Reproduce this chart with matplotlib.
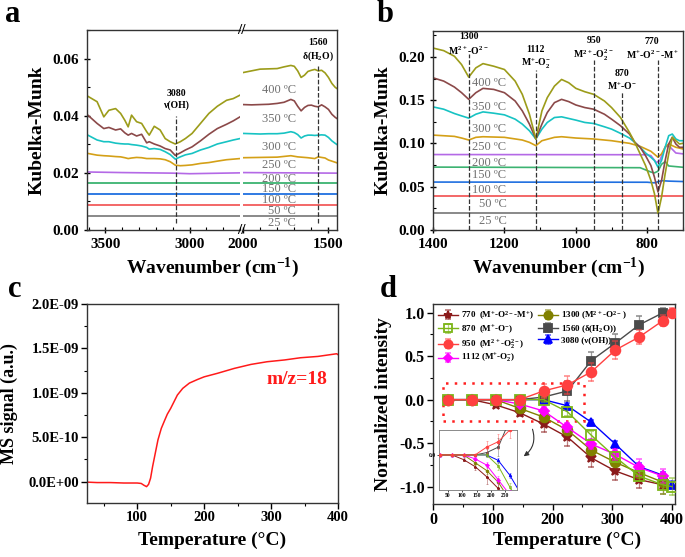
import matplotlib
matplotlib.use('Agg')
import matplotlib.pyplot as plt
from matplotlib.ticker import MultipleLocator, FuncFormatter
from matplotlib.patches import Rectangle
from matplotlib.colors import to_rgba

plt.rcParams['font.family'] = ['Liberation Serif', 'DejaVu Serif']
plt.rcParams['font.weight'] = 'bold'
plt.rcParams['mathtext.fontset'] = 'custom'
plt.rcParams['mathtext.rm'] = 'Liberation Serif:bold'
plt.rcParams['mathtext.bf'] = 'Liberation Serif:bold'
plt.rcParams['mathtext.default'] = 'bf'
plt.rcParams['axes.linewidth'] = 1.0
plt.rcParams['axes.edgecolor'] = '#333333'

# ---------------- data: panel a (DRIFTS, OH / H2O region) ----------------
temp_labels = ['25 ºC', '50 ºC', '100 ºC', '150 ºC', '200 ºC', '250 ºC', '300 ºC', '350 ºC', '400 ºC']
temp_colors = ['#808080', '#f25c5c', '#1f6fe0', '#3cb371', '#b469e6', '#d4a017', '#17c3c3', '#8b4949', '#9c9c1a']

flat_a = [0.0049, 0.0087, 0.0125, 0.0164]          # 25, 50, 100, 150 C (flat)
a200_wn_l = [3605, 3400, 3100, 3000, 2700]
a200_l = [0.0203, 0.0201, 0.0199, 0.0197, 0.0200]
a200_wn_r = [2000, 1450]
a200_r = [0.0201, 0.0199]

wn_l = [3605, 3550, 3510, 3480, 3440, 3410, 3385, 3365, 3345, 3315, 3285, 3255, 3240, 3210,
        3175, 3145, 3115, 3085, 3055, 3025, 2985, 2935, 2885, 2835, 2780, 2740, 2700]
a250_l = [0.0268, 0.0262, 0.0260, 0.0259, 0.0257, 0.0256, 0.0253, 0.0250, 0.0252, 0.0254, 0.0253,
          0.0250, 0.0250, 0.0250, 0.0249, 0.0246, 0.0239, 0.0227, 0.0225, 0.0226, 0.0228, 0.0233,
          0.0236, 0.0241, 0.0246, 0.0248, 0.0250]
a300_l = [0.0332, 0.0315, 0.0309, 0.0309, 0.0304, 0.0302, 0.0301, 0.0301, 0.0299, 0.0297, 0.0294,
          0.0289, 0.0283, 0.0285, 0.0282, 0.0274, 0.0264, 0.0248, 0.0256, 0.0263, 0.0268, 0.0280,
          0.0289, 0.0301, 0.0309, 0.0315, 0.0320]
a350_l = [0.0402, 0.0373, 0.0355, 0.0359, 0.0350, 0.0354, 0.0340, 0.0332, 0.0338, 0.0329, 0.0335,
          0.0305, 0.0309, 0.0301, 0.0294, 0.0285, 0.0280, 0.0261, 0.0270, 0.0280, 0.0291, 0.0312,
          0.0335, 0.0355, 0.0370, 0.0382, 0.0396]
a400_l = [0.0468, 0.0449, 0.0396, 0.0419, 0.0425, 0.0408, 0.0384, 0.0361, 0.0402, 0.0379, 0.0373,
          0.0344, 0.0332, 0.0363, 0.0350, 0.0320, 0.0309, 0.0301, 0.0309, 0.0320, 0.0338, 0.0373,
          0.0408, 0.0433, 0.0454, 0.0460, 0.0472]

wn_r = [2000, 1950, 1900, 1850, 1800, 1760, 1720, 1700, 1680, 1660, 1640, 1620, 1600, 1580,
        1560, 1540, 1520, 1500, 1480, 1460, 1450]
a250_wn_r = [2000, 1900, 1800, 1720, 1680, 1620, 1580, 1560, 1520, 1500, 1450]
a250_r = [0.0253, 0.0254, 0.0255, 0.0260, 0.0256, 0.0253, 0.0250, 0.0256, 0.0252, 0.0245, 0.0235]
a300_r = [0.0338, 0.0337, 0.0336, 0.0337, 0.0337, 0.0339, 0.0344, 0.0341, 0.0334, 0.0322, 0.0329,
          0.0332, 0.0332, 0.0331, 0.0332, 0.0333, 0.0332, 0.0324, 0.0312, 0.0303, 0.0299]
a350_r = [0.0439, 0.0438, 0.0439, 0.0440, 0.0443, 0.0447, 0.0457, 0.0452, 0.0433, 0.0417, 0.0429,
          0.0436, 0.0437, 0.0433, 0.0431, 0.0438, 0.0431, 0.0422, 0.0405, 0.0394, 0.0390]
a400_r = [0.0551, 0.0557, 0.0563, 0.0564, 0.0565, 0.0571, 0.0576, 0.0573, 0.0557, 0.0534, 0.0542,
          0.0555, 0.0559, 0.0562, 0.0557, 0.0559, 0.0550, 0.0534, 0.0513, 0.0499, 0.0495]
a_label_y = [0.0023, 0.0068, 0.0105, 0.0143, 0.0180, 0.0227, 0.0290, 0.0390, 0.0490]

# ---------------- data: panel b (DRIFTS, oxygen species region) ----------------
flat_b = [0.0191, 0.0390]                           # 25, 50 C
b100_wn = [1400, 800, 780, 760, 740, 700]
b100 = [0.0554, 0.0552, 0.0545, 0.0570, 0.0565, 0.0560]
b150_wn = [1400, 820, 790, 780, 770, 760, 750, 740, 700]
b150 = [0.0727, 0.0720, 0.0670, 0.0660, 0.0680, 0.0760, 0.0790, 0.0740, 0.0725]
b200_wn = [1400, 800, 790, 775, 765, 750, 740, 720, 700]
b200 = [0.0872, 0.0870, 0.0860, 0.0780, 0.0800, 0.0960, 0.0975, 0.0890, 0.0880]
b250_wn = [1400, 1340, 1320, 1300, 1280, 1260, 1200, 1150, 1130, 1112, 1095, 1060, 1040, 1000,
           950, 900, 850, 820, 790, 770, 760, 750, 740, 720, 700]
b250 = [0.1097, 0.1082, 0.1063, 0.1040, 0.1071, 0.1078, 0.1071, 0.1040, 0.1013, 0.0975, 0.1032,
        0.1071, 0.1078, 0.1063, 0.1052, 0.1032, 0.1002, 0.0967, 0.0910, 0.0841, 0.0880, 0.0956,
        0.0994, 0.0956, 0.0937]
wn_b = [1400, 1370, 1340, 1320, 1300, 1280, 1260, 1230, 1200, 1170, 1150, 1130, 1112, 1095, 1080,
        1060, 1040, 1020, 1000, 975, 950, 920, 900, 875, 850, 835, 820, 805, 790, 780, 770, 760,
        750, 740, 730, 720, 710, 700]
b300 = [0.1423, 0.1396, 0.1346, 0.1319, 0.1293, 0.1338, 0.1365, 0.1350, 0.1331, 0.1281, 0.1224,
        0.1147, 0.1052, 0.1166, 0.1243, 0.1300, 0.1308, 0.1289, 0.1270, 0.1243, 0.1231, 0.1193,
        0.1166, 0.1117, 0.1063, 0.1013, 0.0956, 0.0891, 0.0841, 0.0803, 0.0727, 0.0803, 0.0956,
        0.1090, 0.1109, 0.1052, 0.1032, 0.1032]
b350 = [0.1759, 0.1721, 0.1652, 0.1587, 0.1510, 0.1587, 0.1637, 0.1625, 0.1587, 0.1491, 0.1377,
        0.1224, 0.1052, 0.1224, 0.1358, 0.1472, 0.1510, 0.1484, 0.1445, 0.1415, 0.1396, 0.1338,
        0.1281, 0.1205, 0.1109, 0.1013, 0.0956, 0.0860, 0.0746, 0.0612, 0.0440, 0.0574, 0.0803,
        0.0994, 0.1071, 0.0994, 0.0956, 0.0956]
b400 = [0.2103, 0.2073, 0.2008, 0.1912, 0.1767, 0.1874, 0.1923, 0.1893, 0.1855, 0.1721, 0.1568,
        0.1338, 0.1052, 0.1377, 0.1530, 0.1663, 0.1740, 0.1702, 0.1637, 0.1598, 0.1568, 0.1491,
        0.1415, 0.1300, 0.1128, 0.1013, 0.0880, 0.0746, 0.0574, 0.0421, 0.0191, 0.0382, 0.0650,
        0.0880, 0.1071, 0.1032, 0.0994, 0.1002]
b_label_y = [0.0107, 0.0306, 0.0467, 0.0640, 0.0780, 0.0956, 0.1170, 0.1420, 0.1700]

# ---------------- data: panel c (MS, m/z = 18) ----------------
c_temp = [25, 40, 60, 80, 100, 106, 110, 114, 117, 120, 123, 127, 131, 136, 141, 145, 150, 155,
          160, 168, 178, 190, 200, 220, 245, 270, 294, 320, 344, 370, 398, 400]
c_sig = [-0.005, -0.010, -0.010, -0.015, -0.015, -0.020, -0.040, -0.056, -0.030, 0.040, 0.170,
         0.320, 0.470, 0.600, 0.690, 0.760, 0.825, 0.900, 0.975, 1.050, 1.110, 1.150, 1.180,
         1.220, 1.275, 1.320, 1.350, 1.370, 1.395, 1.410, 1.440, 1.430]   # x 1e-9

# ---------------- data: panel d (normalized band intensity) ----------------
d_t10 = [25, 65, 105, 145, 185, 225, 265, 305, 345, 385]
d_t11 = [25, 65, 105, 145, 185, 225, 265, 305, 345, 385, 400]
d770 = [0, 0, -0.06, -0.15, -0.28, -0.43, -0.67, -0.82, -0.92, -0.98]
e770 = [0, 0, 0.02, 0.04, 0.09, 0.10, 0.10, 0.10, 0.10, 0.10]
d870 = [0, 0, 0, 0, 0, -0.14, -0.41, -0.66, -0.88, -0.98, -1.0]
e870 = [0, 0, 0, 0, 0.03, 0.05, 0.05, 0.06, 0.06, 0.10, 0.10]
d950 = [0, 0, 0, 0, 0.10, 0.17, 0.32, 0.57, 0.72, 0.91, 1.0]
e950 = [0, 0, 0, 0, 0.08, 0.10, 0.10, 0.10, 0.08, 0.06, 0.05]
d1112 = [0, 0, 0, -0.05, -0.13, -0.32, -0.51, -0.63, -0.78, -0.88]
e1112 = [0, 0, 0, 0.02, 0.04, 0.05, 0.06, 0.06, 0.10, 0.08]
d1300 = [0, 0, 0, -0.10, -0.20, -0.35, -0.58, -0.72, -0.84, -0.95]
e1300 = [0, 0, 0, 0.03, 0.05, 0.06, 0.06, 0.08, 0.08, 0.08]
d1560 = [0, 0, 0, 0, 0.03, 0.10, 0.45, 0.65, 0.86, 1.0]
e1560 = [0, 0, 0, 0, 0.04, 0.12, 0.10, 0.10, 0.10, 0.05]
d3080 = [0, 0, 0, 0, 0, -0.07, -0.26, -0.51, -0.77, -0.87, -0.98]
e3080 = [0, 0, 0, 0, 0.02, 0.03, 0.03, 0.03, 0.04, 0.04, 0.04]

W, H = 685, 557
fig = plt.figure(figsize=(W / 100, H / 100), dpi=100)


def box(l, t, r, b):
    return [l / W, 1 - b / H, (r - l) / W, (b - t) / H]


def ir_ticks(ax):
    ax.tick_params(which='major', direction='inout', length=5, width=1, labelsize=11)
    ax.tick_params(which='minor', direction='in', length=2.5, width=0.8)


# ---------------- panel a ----------------
ax1 = fig.add_axes(box(87, 30, 240, 230))
ax2 = fig.add_axes(box(243, 30, 337, 230))
for ax in (ax1, ax2):
    for i, lvl in enumerate(flat_a):
        ax.plot([3610, 1440], [lvl, lvl], color=temp_colors[i], lw=1.3)
    ir_ticks(ax)
    ax.set_ylim(0, 0.07)
ax1.plot(a200_wn_l, a200_l, color=temp_colors[4], lw=1.2)
ax2.plot(a200_wn_r, a200_r, color=temp_colors[4], lw=1.2)
for ys, c in zip([a250_l, a300_l, a350_l, a400_l], temp_colors[5:]):
    ax1.plot(wn_l, ys, color=c, lw=1.2)
ax2.plot(a250_wn_r, a250_r, color=temp_colors[5], lw=1.2)
for ys, c in zip([a300_r, a350_r, a400_r], temp_colors[6:]):
    ax2.plot(wn_r, ys, color=c, lw=1.2)
ax1.set_xlim(3610, 2700)
ax2.set_xlim(2000, 1450)
ax1.spines['right'].set_visible(False)
ax2.spines['left'].set_visible(False)
ax2.tick_params(axis='y', which='both', left=False, labelleft=False)
ax1.xaxis.set_major_locator(MultipleLocator(500))
ax1.xaxis.set_minor_locator(MultipleLocator(100))
ax2.xaxis.set_major_locator(MultipleLocator(500))
ax2.xaxis.set_minor_locator(MultipleLocator(100))
ax1.yaxis.set_major_locator(MultipleLocator(0.02))
ax1.yaxis.set_minor_locator(MultipleLocator(0.01))
ax1.yaxis.set_major_formatter(FuncFormatter(lambda v, p: f'{v:.2f}'))
ax1.plot([3080, 3080], [0.0026, 0.040], ls='--', color='#333333', lw=0.9)
ax1.text(3080, 0.0457, '3080\nν(OH)', ha='center', va='center', fontsize=7, linespacing=1.3)
ax2.plot([1560, 1560], [0.0026, 0.0578], ls='--', color='#333333', lw=0.9)
ax2.text(1560, 0.0629, '1560\nδ(H$_2$O)', ha='center', va='center', fontsize=7, linespacing=1.3)
for lbl, y in zip(temp_labels, a_label_y):
    ax2.text(1690, y, lbl, ha='right', va='center', fontsize=9, color='#707070', fontweight='normal')
for yb in (30, 230):
    fig.text(241.5 / W, 1 - yb / H, '//', ha='center', va='center', fontsize=11)
fig.text(37 / W, 1 - 130 / H, 'Kubelka-Munk', rotation=90, ha='center', va='center', fontsize=14)
fig.text(212 / W, 1 - 268 / H, 'Wavenumber (cm$^{-1}$)', ha='center', va='center', fontsize=14)

# ---------------- panel b ----------------
axb = fig.add_axes(box(433, 31, 683, 230))
for i, lvl in enumerate(flat_b):
    axb.plot([1400, 700], [lvl, lvl], color=temp_colors[i], lw=1.3)
axb.plot(b100_wn, b100, color=temp_colors[2], lw=1.2)
axb.plot(b150_wn, b150, color=temp_colors[3], lw=1.2)
axb.plot(b200_wn, b200, color=temp_colors[4], lw=1.2)
axb.plot(b250_wn, b250, color=temp_colors[5], lw=1.2)
for ys, c in zip([b300, b350, b400], temp_colors[6:]):
    axb.plot(wn_b, ys, color=c, lw=1.2)
axb.set_xlim(1400, 700)
axb.set_ylim(0, 0.23)
axb.xaxis.set_major_locator(MultipleLocator(200))
axb.xaxis.set_minor_locator(MultipleLocator(100))
axb.yaxis.set_major_locator(MultipleLocator(0.05))
axb.yaxis.set_minor_locator(MultipleLocator(0.025))
axb.yaxis.set_major_formatter(FuncFormatter(lambda v, p: f'{v:.2f}'))
ir_ticks(axb)
b_marks = [(1300, 0.203, 1300, 0.2145, '1300\nM$^{2+}$-O$^{2-}$'),
           (1112, 0.185, 1112, 0.199, '1112\nM$^{+}$-O$_2^{-}$'),
           (950, 0.196, 950, 0.209, '950\nM$^{2+}$-O$_2^{2-}$'),
           (870, 0.161, 870, 0.173, '870\nM$^{+}$-O$^{-}$'),
           (770, 0.197, 787, 0.209, '770\nM$^{+}$-O$^{2-}$-M$^{+}$')]
for xw, top, xt, yt, txt in b_marks:
    axb.plot([xw, xw], [0, top], ls='--', color='#333333', lw=0.9)
    axb.text(xt, yt, txt, ha='center', va='center', fontsize=7, linespacing=1.3)
for lbl, y in zip(temp_labels, b_label_y):
    axb.text(1194, y, lbl, ha='right', va='center', fontsize=9, color='#707070', fontweight='normal')
fig.text(383 / W, 1 - 130 / H, 'Kubelka-Munk', rotation=90, ha='center', va='center', fontsize=14)
fig.text(558 / W, 1 - 268 / H, 'Wavenumber (cm$^{-1}$)', ha='center', va='center', fontsize=14)

# ---------------- panel c ----------------
axc = fig.add_axes(box(87, 304, 338, 503))
axc.plot(c_temp, [v * 1e-9 for v in c_sig], color='#ff1a1a', lw=1.1)
axc.set_xlim(25, 400)
axc.set_ylim(-0.24e-9, 2.0e-9)
axc.xaxis.set_major_locator(MultipleLocator(100))
axc.xaxis.set_minor_locator(MultipleLocator(50))
axc.yaxis.set_major_locator(MultipleLocator(0.5e-9))
axc.yaxis.set_minor_locator(MultipleLocator(0.25e-9))
axc.yaxis.set_major_formatter(FuncFormatter(lambda v, p: f'{v:.1E}'))
axc.tick_params(which='major', direction='out', length=4, width=1, labelsize=10.5, pad=2)
axc.tick_params(which='minor', direction='out', length=2, width=0.8)
axc.text(338, 1.15e-9, 'm/z=18', color='#ff1a1a', fontsize=14, ha='center', va='center')
fig.text(9 / W, 1 - 404 / H, 'MS signal (a.u.)', rotation=90, ha='center', va='center', fontsize=13)
fig.text(212 / W, 1 - 540 / H, 'Temperature (°C)', ha='center', va='center', fontsize=14)

# ---------------- panel d ----------------
axd = fig.add_axes(box(433, 304, 675, 504))
axi = fig.add_axes(box(439, 430, 517, 490))
series = [
    (d_t10, d770, e770, '#8b1a1a', '*', 'full', 7, 3, '770  (M$^{+}$-O$^{2-}$-M$^{+}$)'),
    (d_t11, d870, e870, '#7cb518', 's', 'none', 7, 6, '870  (M$^{+}$-O$^{-}$)'),
    (d_t11, d950, e950, '#ff4040', 'o', 'full', 7, 7, '950  (M$^{2+}$-O$_2^{2-}$)'),
    (d_t10, d1112, e1112, '#ff00ff', 'D', 'full', 5, 4, '1112 (M$^{+}$-O$_2^{-}$)'),
    (d_t10, d1300, e1300, '#808000', 'o', 'full', 7, 3, '1300 (M$^{2+}$-O$^{2-}$)'),
    (d_t10, d1560, e1560, '#4a4a4a', 's', 'full', 6, 5, '1560 (δ(H$_2$O))'),
    (d_t11, d3080, e3080, '#0000ff', '^', 'full', 6, 2, '3080 (ν(OH))'),
]
for t, v, e, c, m, fs, ms, z, lbl in series:
    mfc = 'none' if fs == 'none' else c
    axd.errorbar(t, v, yerr=e, color=c, marker=m, ms=ms, mfc=mfc, mec=c, mew=1.3, lw=1.0,
                 ecolor=to_rgba(c, 0.55), elinewidth=0.9, capsize=2, zorder=z, label=lbl)
    axi.errorbar(t, v, yerr=e, color=c, marker=m, ms=2, mfc=mfc, mec=c, mew=0.5, lw=0.7,
                 ecolor=to_rgba(c, 0.55), elinewidth=0.5, capsize=1, zorder=z)
axd.set_xlim(0, 405)
axd.set_ylim(-1.2, 1.1)
axd.xaxis.set_major_locator(MultipleLocator(100))
axd.xaxis.set_minor_locator(MultipleLocator(50))
axd.yaxis.set_major_locator(MultipleLocator(0.5))
axd.yaxis.set_minor_locator(MultipleLocator(0.25))
axd.yaxis.set_major_formatter(FuncFormatter(lambda v, p: f'{v:.1f}'))
axd.tick_params(which='major', direction='out', length=4, width=1, labelsize=11.5, pad=2)
axd.tick_params(which='minor', direction='out', length=2, width=0.8)
axd.legend(loc='upper left', ncol=2, frameon=False, fontsize=6.5, handlelength=2.2,
           columnspacing=0.5, labelspacing=0.15, handletextpad=0.3, borderaxespad=0.15,
           markerscale=0.85)
axd.add_patch(Rectangle((17, -0.245), 236, 0.435, fill=False, ec='#ff2020', lw=1.8,
                        ls=(0, (1, 2.5)), zorder=1))
axd.annotate('', xy=(148, -0.67), xytext=(165, -0.31),
             arrowprops=dict(arrowstyle='-|>', color='#333333', lw=0.8,
                             connectionstyle='arc3,rad=-0.4', mutation_scale=7))
axi.set_xlim(20, 290)
axi.set_ylim(-0.45, 0.32)
axi.set_xticks([50, 100, 150, 200, 250])
axi.set_yticks([0.0])
axi.yaxis.set_major_formatter(FuncFormatter(lambda v, p: f'{v:.1f}'))
axi.tick_params(labelsize=4, length=1.5, width=0.5, pad=1)
for s in axi.spines.values():
    s.set_linewidth(0.6)
    s.set_edgecolor('#777777')
fig.text(383 / W, 1 - 404 / H, 'Normalized intensity', rotation=90, ha='center', va='center', fontsize=14)
fig.text(567 / W, 1 - 540 / H, 'Temperature (°C)', ha='center', va='center', fontsize=14)

# panel letters
for x, y, s in [(5, 22, 'a'), (377, 22, 'b'), (8, 297, 'c'), (380, 297, 'd')]:
    fig.text(x / W, 1 - y / H, s, fontsize=22, ha='left', va='baseline')

fig.savefig('out.png', dpi=100)
